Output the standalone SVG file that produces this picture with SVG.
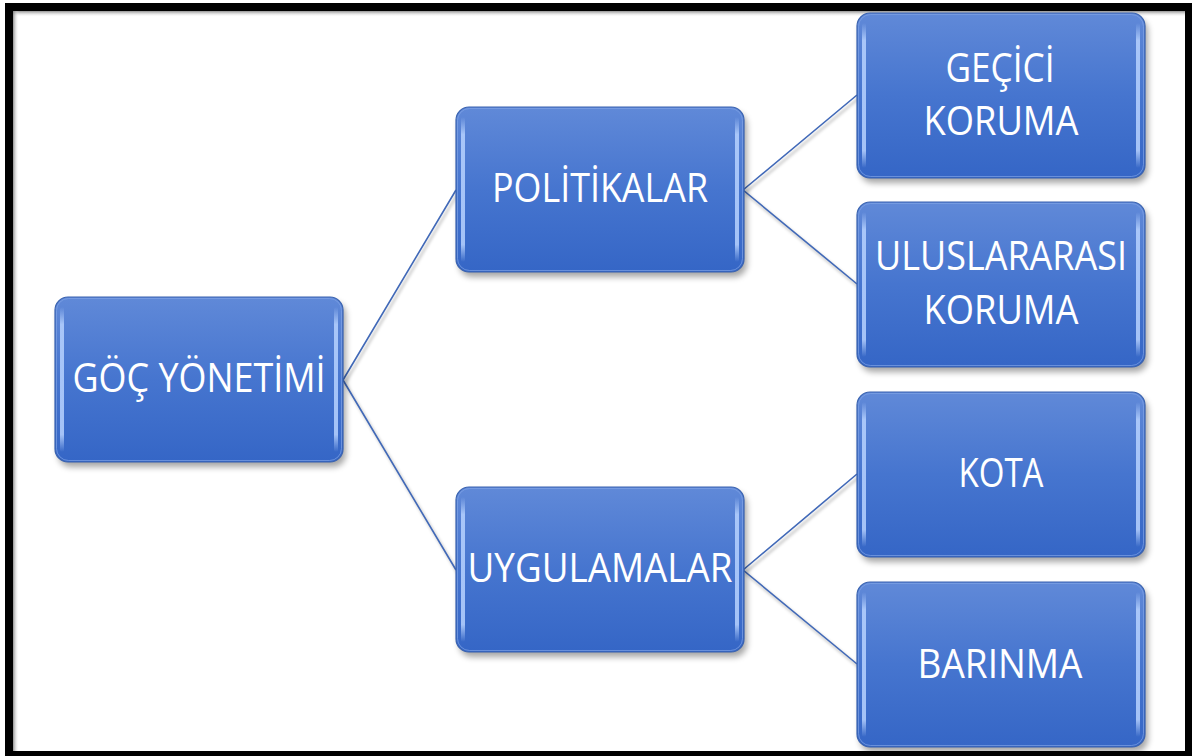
<svg xmlns="http://www.w3.org/2000/svg" width="1192" height="756" viewBox="0 0 1192 756">
  <defs>
    <linearGradient id="boxFill" x1="0" y1="0" x2="0" y2="1">
      <stop offset="0" stop-color="#6089d8"/>
      <stop offset="0.5" stop-color="#4675cf"/>
      <stop offset="1" stop-color="#3566c6"/>
    </linearGradient>
    <linearGradient id="strip" x1="0" y1="0" x2="0" y2="1">
      <stop offset="0" stop-color="#b7d2ff" stop-opacity="0"/>
      <stop offset="0.12" stop-color="#b7d2ff" stop-opacity="0.85"/>
      <stop offset="0.88" stop-color="#b7d2ff" stop-opacity="0.85"/>
      <stop offset="1" stop-color="#b7d2ff" stop-opacity="0"/>
    </linearGradient>
    <linearGradient id="topShade" x1="0" y1="0" x2="0" y2="1">
      <stop offset="0" stop-color="#777" stop-opacity="0.8"/>
      <stop offset="1" stop-color="#fff" stop-opacity="0"/>
    </linearGradient>
    <linearGradient id="leftShade" x1="0" y1="0" x2="1" y2="0">
      <stop offset="0" stop-color="#777" stop-opacity="0.8"/>
      <stop offset="1" stop-color="#fff" stop-opacity="0"/>
    </linearGradient>
    <filter id="shadow" x="-10%" y="-10%" width="130%" height="130%">
      <feGaussianBlur stdDeviation="3"/>
    </filter>
    <filter id="lineShadow" x="-10%" y="-10%" width="120%" height="120%">
      <feGaussianBlur stdDeviation="1.5"/>
    </filter>
    <symbol id="box" viewBox="0 0 288 165" overflow="visible">
      <rect x="3" y="5" width="288" height="165" rx="13" fill="#000" opacity="0.35" filter="url(#shadow)"/>
      <rect x="0" y="0" width="288" height="165" rx="13" fill="url(#boxFill)" stroke="#3a63b0" stroke-width="1.2"/>
      <rect x="1.5" y="1.5" width="285" height="162" rx="12" fill="none" stroke="#7fa3e6" stroke-width="1" opacity="0.7"/>
      <rect x="5" y="10" width="4" height="145" rx="2" fill="url(#strip)"/>
      <rect x="279" y="10" width="4" height="145" rx="2" fill="url(#strip)"/>
    </symbol>
  </defs>
  <style>
    .lbl { font-family: "Open Sans", "Liberation Sans", sans-serif; font-size: 40px; fill: #ffffff; text-anchor: middle; }
    .conn { stroke: #4169b8; stroke-width: 1.6; fill: none; }
    .connShadow { stroke: #000; stroke-width: 2; opacity: 0.25; fill: none; }
  </style>

  <rect width="1192" height="756" fill="#ffffff"/>

  <!-- frame -->
  <g id="frame">
    <rect x="13" y="11" width="1172" height="6" fill="url(#topShade)"/>
    <rect x="13" y="11" width="6" height="740" fill="url(#leftShade)"/>
    <rect x="9" y="7" width="1180" height="748" fill="none" stroke="#000" stroke-width="8"/>
  </g>

  <!-- connectors -->
  <g id="connectors">
    <g filter="url(#lineShadow)" transform="translate(2,3)">
      <path class="connShadow" d="M343 380 L456 190 M343 380 L456 570 M743 190 L857 95 M743 190 L857 284 M743 570 L857 474 M743 570 L857 664"/>
    </g>
    <path class="conn" d="M343 380 L456 190 M343 380 L456 570 M743 190 L857 95 M743 190 L857 284 M743 570 L857 474 M743 570 L857 664"/>
  </g>

  <g id="node-goc">
    <use href="#box" x="55" y="297" width="288" height="165"/>
    <text class="lbl" x="199" y="392" textLength="253" lengthAdjust="spacingAndGlyphs">GÖÇ YÖNETİMİ</text>
  </g>

  <g id="node-politikalar">
    <use href="#box" x="456" y="107" width="288" height="165"/>
    <text class="lbl" x="600" y="202" textLength="216" lengthAdjust="spacingAndGlyphs">POLİTİKALAR</text>
  </g>

  <g id="node-uygulamalar">
    <use href="#box" x="456" y="487" width="288" height="165"/>
    <text class="lbl" x="600" y="582" textLength="265" lengthAdjust="spacingAndGlyphs">UYGULAMALAR</text>
  </g>

  <g id="node-gecici">
    <use href="#box" x="857" y="13" width="288" height="165"/>
    <text class="lbl" x="1000" y="82" textLength="109" lengthAdjust="spacingAndGlyphs">GEÇİCİ</text>
    <text class="lbl" x="1001" y="135" textLength="155" lengthAdjust="spacingAndGlyphs">KORUMA</text>
  </g>

  <g id="node-uluslararasi">
    <use href="#box" x="857" y="202" width="288" height="165"/>
    <text class="lbl" x="1001" y="270" textLength="252" lengthAdjust="spacingAndGlyphs">ULUSLARARASI</text>
    <text class="lbl" x="1001" y="324" textLength="155" lengthAdjust="spacingAndGlyphs">KORUMA</text>
  </g>

  <g id="node-kota">
    <use href="#box" x="857" y="392" width="288" height="165"/>
    <text class="lbl" x="1001" y="487" textLength="85" lengthAdjust="spacingAndGlyphs">KOTA</text>
  </g>

  <g id="node-barinma">
    <use href="#box" x="857" y="582" width="288" height="165"/>
    <text class="lbl" x="1000" y="678" textLength="165" lengthAdjust="spacingAndGlyphs">BARINMA</text>
  </g>
</svg>
